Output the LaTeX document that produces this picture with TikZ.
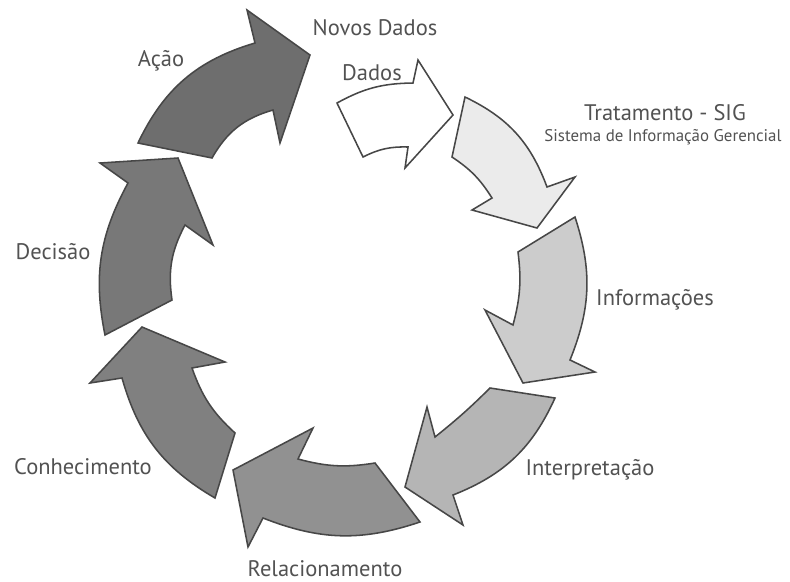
\documentclass[tikz,border=0pt]{standalone}
\usepackage{fontspec}
\setmainfont{PT Sans}
\usepackage{tikz}

\begin{document}
\begin{tikzpicture}[x=0.025cm, y=0.025cm,
  seta/.style={draw=black!72, line width=1.1pt},
  rotulo/.style={text=black!68, font=\fontsize{16}{18}\selectfont, inner sep=0pt},
  subrotulo/.style={text=black!68, font=\fontsize{12}{14}\selectfont, inner sep=0pt}]
  \useasboundingbox (0,0) rectangle (790,-581);
  \filldraw[seta, fill=white] (337,-103) to[bend left=14] (413,-83) -- (418,-60) -- (453,-115) -- (405,-168) -- (408,-147) to[bend right=14] (363,-157) -- cycle;
  \filldraw[seta, fill=black!8] (465,-97) to[bend left=22] (547,-187) -- (575,-177) -- (537,-228) -- (472,-210) -- (492,-198) to[bend right=12] (452,-157) -- cycle;
  \filldraw[seta, fill=black!20] (575,-217) to[bend left=20] (570,-360) -- (595,-372) -- (523,-383) -- (485,-310) -- (513,-325) to[bend right=11] (518,-252) -- cycle;
  \filldraw[seta, fill=black!29] (555,-398) to[bend left=22] (453,-495) -- (463,-525) -- (405,-487) -- (427,-407) -- (435,-437) to[bend right=3] (490,-388) -- cycle;
  \filldraw[seta, fill=black!43] (420,-522) to[bend left=20] (263,-518) -- (248,-547) -- (233,-470) -- (313,-428) -- (298,-459) to[bend right=12] (375,-463) -- cycle;
  \filldraw[seta, fill=black!50] (215,-498) to[bend left=22] (122,-378) -- (90,-383) -- (142,-327) -- (225,-362) -- (192,-368) to[bend right=14] (235,-433) -- cycle;
  \filldraw[seta, fill=black!53] (105,-335) to[bend left=20] (128,-183) -- (100,-163) -- (178,-158) -- (213,-245) -- (185,-225) to[bend right=18] (172,-300) -- cycle;
  \filldraw[seta, fill=black!57] (138,-143) to[bend left=24] (255,-43) -- (247,-10) -- (310,-55) -- (280,-143) -- (273,-110) to[bend right=22] (212,-158) -- cycle;
  \node[rotulo] (novos) at (375,-28) {Novos Dados};
  \node[rotulo] (dados) at (372,-73) {Dados};
  \node[rotulo] (tratamento) at (665,-113) {Tratamento - SIG};
  \node[subrotulo] (sig) at (663,-137) {Sistema de Informação Gerencial};
  \node[rotulo] (informacoes) at (655,-300) {Informações};
  \node[rotulo] (interpretacao) at (590,-470) {Interpretação};
  \node[rotulo] (relacionamento) at (325,-569) {Relacionamento};
  \node[rotulo] (conhecimento) at (83,-467) {Conhecimento};
  \node[rotulo] (decisao) at (53,-252) {Decisão};
  \node[rotulo] (acao) at (161,-61) {Ação};
\end{tikzpicture}
\end{document}
